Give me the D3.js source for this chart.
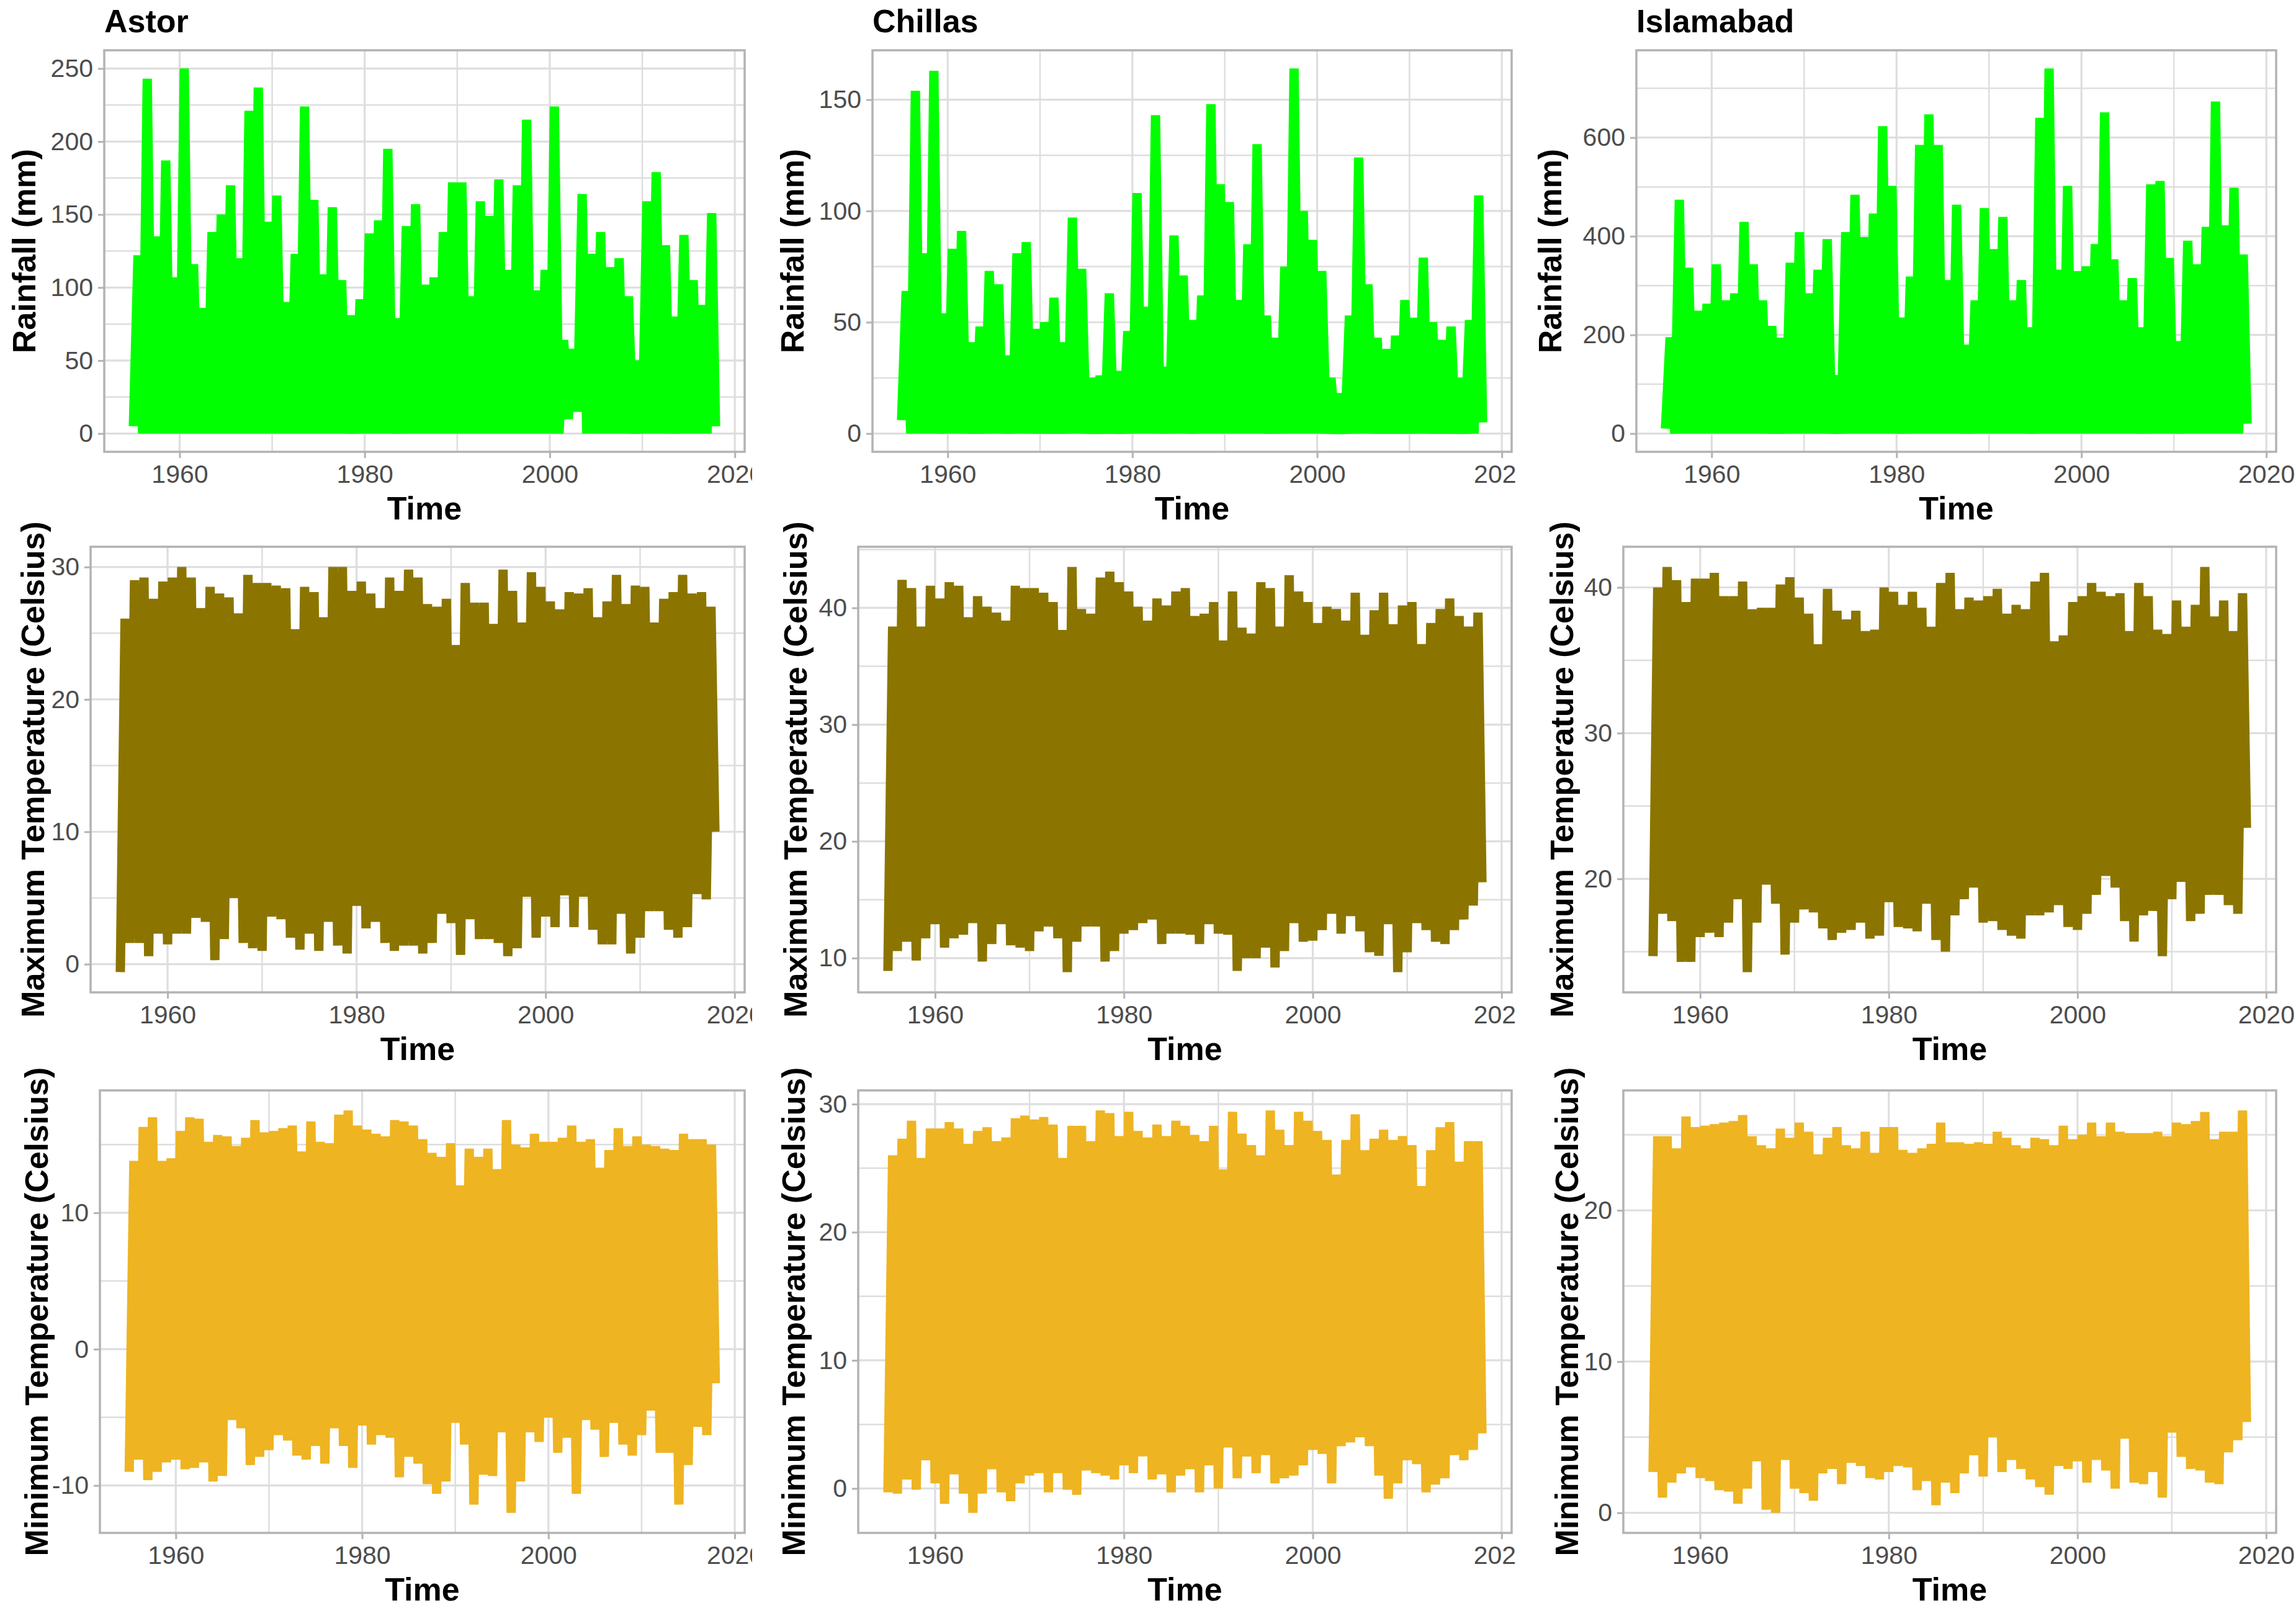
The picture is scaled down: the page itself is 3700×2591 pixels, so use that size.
<!DOCTYPE html>
<html>
<head>
<meta charset="utf-8">
<script src="https://cdn.jsdelivr.net/npm/d3@7"></script>
<style>
  body { margin: 0; background: #fff; }
  svg text { font-family: "Liberation Sans", Arial, sans-serif; }
</style>
</head>
<body>
<svg id="chart" width="3700" height="2591"></svg>
<script>
// monthly series 1955-01 .. 2017-12, kept here as the yearly trough (Jan) and peak (mid-year)
// plus the last month (Dec 2017)
const firstYear = 1955;
const endTime = 2017 + 11 / 12;
const xTicks = [1960, 1980, 2000, 2020];

// Astor
const astorRainPeak = [122,243,135,187,107,250,116,86,138,150, 170,120,221,237,145,163,90,123,224,160,
  109,155,105,81,92,137,146,195,79,142, 157,102,107,138,172,172,94,159,149,174,
  112,170,215,98,112,224,64,58,164,123, 138,114,120,94,50,159,179,129,80,136, 105,88,151];
const astorRainLow = [5,0,0,0,0,0,0,0,0,0, 0,0,0,0,0,0,0,0,0,0, 0,0,0,0,0,0,0,0,0,0, 0,0,0,0,0,0,0,0,0,0,
  0,0,0,0,0,0,0,10,15,0, 0,0,0,0,0,0,0,0,0,0, 0,0,0];
const astorRainEnd = 5;
const astorTmaxPeak = [26.1,29.0,29.2,27.6,28.9,29.2,30.0,29.2,26.9,28.5, 28.0,27.7,26.5,29.4,28.8,28.8,28.6,28.4,25.3,28.5,
  28.1,26.2,30.0,30.0,28.2,28.9,28.0,26.9,29.2,28.2, 29.8,29.2,27.2,27.0,27.6,24.1,28.8,27.3,27.3,25.7,
  29.8,28.2,25.8,29.6,28.5,27.4,26.8,28.1,28.0,28.4, 26.2,27.4,29.4,27.2,28.6,28.5,25.8,27.6,28.1,29.4, 28.0,28.1,27.0];
const astorTmaxLow = [-0.6,1.6,1.6,0.6,2.3,1.5,2.3,2.3,3.5,3.2, 0.3,1.9,5.0,1.6,1.2,1.0,3.6,3.4,2.0,1.1,
  2.3,1.0,3.2,1.4,0.8,4.4,2.7,3.2,1.6,1.0, 1.4,1.4,0.8,1.6,3.8,3.1,0.7,3.4,1.9,1.9,
  1.6,0.6,1.2,5.1,2.0,3.6,2.8,5.2,2.8,5.1, 2.6,1.5,1.5,3.8,0.8,2.0,4.0,4.0,2.6,2.0, 2.8,5.3,4.9];
const astorTmaxEnd = 10.0;
const astorTminPeak = [13.8,16.3,17.0,13.8,14.0,16.0,17.0,16.9,15.2,15.7, 15.6,14.9,15.5,16.8,15.9,16.0,16.2,16.4,14.5,16.7,
  15.2,15.1,17.2,17.5,16.4,16.1,15.8,15.6,16.8,16.7, 16.4,15.4,14.4,14.1,15.1,12.0,14.7,14.1,14.7,13.2,
  16.8,15.0,14.8,15.8,15.2,15.2,15.5,16.4,15.2,15.4, 13.3,14.6,16.2,14.9,15.6,15.0,14.9,14.7,14.6,15.8, 15.4,15.4,15.0];
const astorTminLow = [-9.0,-8.1,-9.6,-9.0,-8.3,-8.1,-8.8,-8.7,-8.3,-9.7, -9.3,-5.2,-5.8,-8.5,-7.9,-7.4,-6.3,-6.7,-7.8,-8.1,
  -7.1,-8.4,-5.8,-7.1,-8.7,-5.6,-7.0,-6.3,-6.5,-9.4, -7.9,-8.4,-9.9,-10.6,-9.7,-5.4,-7.0,-11.4,-9.2,-9.3,
  -6.1,-12.0,-9.7,-6.1,-6.8,-5.0,-7.6,-6.5,-10.6,-5.2, -5.9,-7.9,-5.4,-7.0,-7.8,-6.3,-4.5,-7.6,-7.6,-11.4, -8.5,-5.7,-6.3];
const astorTminEnd = -2.5;

// Chillas
const chillasRainPeak = [64,154,81,163,54,83,91,41,48,73, 67,35,81,86,47,50,61,41,97,74,
  25,26,63,28,46,108,57,143,30,89, 71,51,62,148,112,104,60,85,130,53,
  43,75,164,100,87,73,25,18,53,124, 67,43,38,44,60,52,79,50,42,48, 25,51,107];
const chillasRainLow = [6,0,0,0,0,0,0,0,0,0, 0,0,0,0,0,0,0,0,0,0, 0,0,0,0,0,0,0,0,0,0, 0,0,0,0,0,0,0,0,0,0,
  0,0,0,0,0,0,0,0,0,0, 0,0,0,0,0,0,0,0,0,0, 0,0,0];
const chillasRainEnd = 5;
const chillasTmaxPeak = [38.4,42.4,41.7,38.4,41.9,40.8,42.2,41.9,39.2,41.0, 40.1,39.6,38.9,41.9,41.7,41.7,41.3,40.5,38.1,43.5,
  39.9,39.5,42.6,43.1,42.2,41.4,40.1,38.9,40.8,40.2, 41.4,41.7,39.3,39.5,40.5,37.2,41.4,38.3,37.8,42.2,
  41.7,38.4,42.8,41.4,40.5,38.7,40.1,39.9,38.9,41.3, 37.7,39.8,41.3,38.6,40.2,40.5,36.9,38.7,39.9,40.8, 39.3,38.4,39.6];
const chillasTmaxLow = [8.9,10.6,11.4,9.8,11.7,12.9,10.9,11.7,12.0,13.0, 9.7,11.2,12.9,11.1,10.9,10.6,12.3,12.7,11.7,8.8,
  11.4,12.7,12.7,9.7,10.6,12.1,12.4,13.0,13.3,11.2, 12.1,12.1,12.0,11.2,12.9,12.1,12.0,8.9,10.0,10.0,
  10.9,9.2,10.6,13.0,11.4,11.5,12.4,13.8,12.1,13.6, 12.3,10.5,10.2,12.9,8.8,10.5,13.0,12.4,11.4,11.2, 12.4,13.3,14.5];
const chillasTmaxEnd = 16.5;
const chillasTminPeak = [26.0,27.3,28.7,25.8,28.1,28.1,28.6,28.1,26.9,27.9, 28.2,27.1,27.4,28.9,29.1,28.8,29.0,28.4,25.8,28.3,
  28.3,27.1,29.5,29.3,27.5,29.4,27.9,27.4,28.4,27.5, 28.7,28.3,27.6,27.1,28.3,24.9,29.4,27.7,26.8,26.0,
  29.5,28.0,26.8,29.4,28.7,27.9,27.2,24.5,27.2,29.2, 26.4,27.3,28.0,27.2,27.5,26.8,23.6,26.4,28.2,28.6, 25.5,27.1,27.1];
const chillasTminLow = [-0.3,-0.4,0.7,-0.1,2.2,0.4,-1.2,1.1,-0.4,-1.9, -0.4,1.5,-0.3,-1.0,0.4,1.0,1.2,-0.3,1.2,-0.1,
  -0.5,1.4,1.2,1.0,0.7,1.8,1.2,2.5,0.7,1.1, -0.3,1.0,1.5,-0.3,1.8,0.0,3.2,0.8,2.5,1.2,
  2.6,0.4,0.8,1.0,1.8,3.0,2.7,0.4,3.3,3.6, 4.0,3.3,1.0,-0.8,0.4,2.2,1.9,-0.3,0.3,0.8, 2.6,2.2,3.0];
const chillasTminEnd = 4.3;

// Islamabad
const islamabadRainPeak = [195,474,336,249,263,343,270,284,429,343, 270,218,194,346,408,284,332,394,118,408,
  484,398,446,623,502,235,318,585,647,585, 311,464,180,270,457,374,439,270,311,215,
  640,740,332,502,329,339,384,651,353,270, 315,215,505,512,356,187,391,343,419,673, 422,498,363];
const islamabadRainLow = [10,0,0,0,0,0,0,0,0,0, 0,0,0,0,0,0,0,0,0,0, 0,0,0,0,0,0,0,0,0,0, 0,0,0,0,0,0,0,0,0,0,
  0,0,0,0,0,0,0,0,0,0, 0,0,0,0,0,0,0,0,0,0, 0,0,0];
const islamabadRainEnd = 20;
const islamabadTmaxPeak = [40.0,41.4,40.5,39.0,40.6,40.6,41.0,39.4,39.4,40.4, 38.5,38.6,38.6,40.2,40.7,39.3,38.2,36.1,39.9,38.4,
  37.8,38.4,37.0,37.1,40.0,39.7,38.8,39.7,38.6,37.3, 40.3,41.0,38.5,39.3,39.1,39.4,39.9,38.2,38.8,38.5,
  40.4,41.0,36.3,36.7,39.0,39.4,40.3,39.7,39.4,39.6, 37.0,40.3,39.4,37.1,36.8,39.1,37.3,38.8,41.4,38.0, 39.1,37.0,39.6];
const islamabadTmaxLow = [14.7,17.6,17.1,14.3,14.3,16.0,16.3,16.0,17.0,18.6, 13.6,17.0,19.6,18.3,14.8,17.0,17.9,17.7,16.6,15.8,
  16.3,16.5,17.0,15.9,16.1,18.4,16.7,16.6,16.4,18.3, 15.8,15.0,17.5,18.6,19.4,17.0,17.1,16.5,16.1,15.9,
  17.5,17.5,17.7,18.2,16.7,16.5,17.6,18.9,20.2,19.4, 17.1,15.7,17.5,17.8,14.7,18.6,19.8,17.1,17.6,18.9, 18.9,18.2,17.6];
const islamabadTmaxEnd = 23.5;
const islamabadTminPeak = [24.9,24.9,24.1,26.2,25.5,25.6,25.7,25.8,25.9,26.3, 24.9,24.3,24.1,25.4,24.8,25.8,25.2,23.7,24.8,25.5,
  24.3,24.1,25.2,23.8,25.5,25.5,24.0,23.8,24.1,24.4, 25.8,24.5,24.5,24.4,24.5,24.4,25.2,24.8,24.3,24.1,
  24.8,24.7,24.3,25.6,24.7,25.0,25.8,24.9,25.8,25.2, 25.1,25.1,25.1,25.2,24.9,25.8,25.7,25.9,26.5,24.7, 25.2,25.2,26.6];
const islamabadTminLow = [2.7,1.0,2.0,2.6,3.0,2.3,2.1,1.5,1.4,0.6, 1.6,3.4,0.2,0.0,3.5,1.6,1.3,0.8,2.6,2.9,
  1.9,3.3,3.1,2.3,2.2,2.7,3.1,3.0,1.5,2.1, 0.5,2.0,1.3,2.6,3.8,2.4,5.0,2.7,3.5,2.9,
  2.2,1.7,1.2,3.1,2.9,3.4,2.0,3.5,2.8,1.6, 4.9,2.0,1.9,2.7,1.0,5.3,3.7,2.9,2.8,2.0, 1.9,4.0,4.8];
const islamabadTminEnd = 6.0;

// y tick labels per panel
const astorRainTicks = [0, 50, 100, 150, 200, 250];
const chillasRainTicks = [0, 50, 100, 150];
const islamabadRainTicks = [0, 200, 400, 600];
const astorTmaxTicks = [0, 10, 20, 30];
const chillasTmaxTicks = [10, 20, 30, 40];
const islamabadTmaxTicks = [20, 30, 40];
const astorTminTicks = [-10, 0, 10];
const chillasTminTicks = [0, 10, 20, 30];
const islamabadTminTicks = [0, 10, 20];

const stations = ["Astor", "Chillas", "Islamabad"];
const yLabels = ["Rainfall (mm)", "Maximum Temperature (Celsius)", "Minimum Temperature (Celsius)"];
const colors = ["#00FF00", "#8B7500", "#EEB422"];

// layout of the 3x3 grid (pixels)
const rows = [{top: 81, bottom: 728}, {top: 881, bottom: 1599}, {top: 1757, bottom: 2470}];
const cols = [{x0: 0, x1: 1212, right: 1200}, {x0: 1212, x1: 2444, right: 2436}, {x0: 2444, x1: 3700, right: 3668}];
const panelLeft = [[168, 1406, 2637], [146, 1383, 2616], [161, 1383, 2616]];
const yTitleX = [[57, 1295, 2516], [71, 1300, 2535], [77, 1297, 2543]];

const panels = [
  {row: 0, col: 0, low: astorRainLow, peak: astorRainPeak, end: astorRainEnd, ticks: astorRainTicks},
  {row: 0, col: 1, low: chillasRainLow, peak: chillasRainPeak, end: chillasRainEnd, ticks: chillasRainTicks},
  {row: 0, col: 2, low: islamabadRainLow, peak: islamabadRainPeak, end: islamabadRainEnd, ticks: islamabadRainTicks},
  {row: 1, col: 0, low: astorTmaxLow, peak: astorTmaxPeak, end: astorTmaxEnd, ticks: astorTmaxTicks},
  {row: 1, col: 1, low: chillasTmaxLow, peak: chillasTmaxPeak, end: chillasTmaxEnd, ticks: chillasTmaxTicks},
  {row: 1, col: 2, low: islamabadTmaxLow, peak: islamabadTmaxPeak, end: islamabadTmaxEnd, ticks: islamabadTmaxTicks},
  {row: 2, col: 0, low: astorTminLow, peak: astorTminPeak, end: astorTminEnd, ticks: astorTminTicks},
  {row: 2, col: 1, low: chillasTminLow, peak: chillasTminPeak, end: chillasTminEnd, ticks: chillasTminTicks},
  {row: 2, col: 2, low: islamabadTminLow, peak: islamabadTminPeak, end: islamabadTminEnd, ticks: islamabadTminTicks}
];

function buildSeries(low, peak, end) {
  const pts = [];
  low.forEach((v, i) => {
    pts.push({t: firstYear + i, v: v});
    pts.push({t: firstYear + i + 0.5, v: peak[i]});
  });
  pts.push({t: endTime, v: end});
  return pts;
}

// ggplot style 5% expansion
function expand(ext) {
  const d = (ext[1] - ext[0]) * 0.05;
  return [ext[0] - d, ext[1] + d];
}

function minorBreaks(major, domain) {
  const step = major[1] - major[0];
  const b = [major[0] - step].concat(major, [major[major.length - 1] + step]);
  const out = [];
  for (let i = 0; i < b.length - 1; i++) out.push((b[i] + b[i + 1]) / 2);
  return out.filter(v => v >= domain[0] && v <= domain[1]);
}

const svg = d3.select("#chart");
svg.append("rect").attr("width", 3700).attr("height", 2591).attr("fill", "#fff");
const defs = svg.append("defs");

cols.forEach((c, i) => {
  defs.append("clipPath").attr("id", "cell" + i)
    .append("rect").attr("x", c.x0).attr("y", 0).attr("width", c.x1 - c.x0).attr("height", 2591);
});

panels.forEach((p, k) => {
  const r = rows[p.row], c = cols[p.col];
  const left = panelLeft[p.row][p.col];
  const series = buildSeries(p.low, p.peak, p.end);

  const x = d3.scaleLinear().domain(expand([firstYear, endTime])).range([left, c.right]);
  const y = d3.scaleLinear().domain(expand(d3.extent(series, d => d.v))).range([r.bottom, r.top]);

  defs.append("clipPath").attr("id", "panel" + k)
    .append("rect").attr("x", left).attr("y", r.top).attr("width", c.right - left).attr("height", r.bottom - r.top);

  const g = svg.append("g").attr("clip-path", `url(#cell${p.col})`);

  // grid
  const grid = g.append("g").attr("stroke", "#DEDEDE");
  const yMajor = p.ticks.filter(v => v >= y.domain()[0] && v <= y.domain()[1]);
  const xMajor = xTicks.filter(v => v >= x.domain()[0] && v <= x.domain()[1]);
  grid.selectAll(".ymin").data(minorBreaks(p.ticks, y.domain())).join("line")
    .attr("x1", left).attr("x2", c.right).attr("y1", d => y(d)).attr("y2", d => y(d)).attr("stroke-width", 2.5);
  grid.selectAll(".xmin").data(minorBreaks(xTicks, x.domain())).join("line")
    .attr("y1", r.top).attr("y2", r.bottom).attr("x1", d => x(d)).attr("x2", d => x(d)).attr("stroke-width", 2.5);
  grid.selectAll(".ymaj").data(yMajor).join("line")
    .attr("x1", left).attr("x2", c.right).attr("y1", d => y(d)).attr("y2", d => y(d)).attr("stroke-width", 3.2);
  grid.selectAll(".xmaj").data(xMajor).join("line")
    .attr("y1", r.top).attr("y2", r.bottom).attr("x1", d => x(d)).attr("x2", d => x(d)).attr("stroke-width", 3.2);

  // the series: thick line, bevel joins give the flat block tops
  const line = d3.line().x(d => x(d.t)).y(d => y(d.v));
  g.append("path")
    .datum(series)
    .attr("clip-path", `url(#panel${k})`)
    .attr("d", line)
    .attr("fill", "none")
    .attr("stroke", colors[p.row])
    .attr("stroke-width", 15)
    .attr("stroke-linejoin", "bevel");

  // panel border
  g.append("rect")
    .attr("x", left).attr("y", r.top)
    .attr("width", c.right - left).attr("height", r.bottom - r.top)
    .attr("fill", "none").attr("stroke", "#B3B3B3").attr("stroke-width", 3.5);

  // axes
  const styleAxis = a => {
    a.select(".domain").remove();
    a.attr("font-size", 41).attr("font-family", "Liberation Sans, Arial, sans-serif");
    a.selectAll(".tick line").attr("stroke", "#B3B3B3").attr("stroke-width", 3);
    a.selectAll(".tick text").attr("fill", "#4D4D4D");
  };
  g.append("g")
    .attr("transform", `translate(0,${r.bottom})`)
    .call(d3.axisBottom(x).tickValues(xMajor).tickFormat(d => String(d)).tickSize(10).tickPadding(11))
    .call(styleAxis);
  g.append("g")
    .attr("transform", `translate(${left},0)`)
    .call(d3.axisLeft(y).tickValues(yMajor).tickFormat(d => String(d)).tickSize(10).tickPadding(8))
    .call(styleAxis);

  // titles
  g.append("text")
    .attr("x", (left + c.right) / 2).attr("y", r.bottom + 109)
    .attr("text-anchor", "middle").attr("font-size", 52).attr("font-weight", "bold")
    .text("Time");
  g.append("text")
    .attr("transform", `translate(${yTitleX[p.row][p.col]},${(r.top + r.bottom) / 2}) rotate(-90)`)
    .attr("text-anchor", "middle").attr("font-size", 52).attr("font-weight", "bold")
    .text(yLabels[p.row]);
  if (p.row === 0) {
    g.append("text")
      .attr("x", left).attr("y", 52)
      .attr("font-size", 52).attr("font-weight", "bold")
      .text(stations[p.col]);
  }
});
</script>
</body>
</html>
